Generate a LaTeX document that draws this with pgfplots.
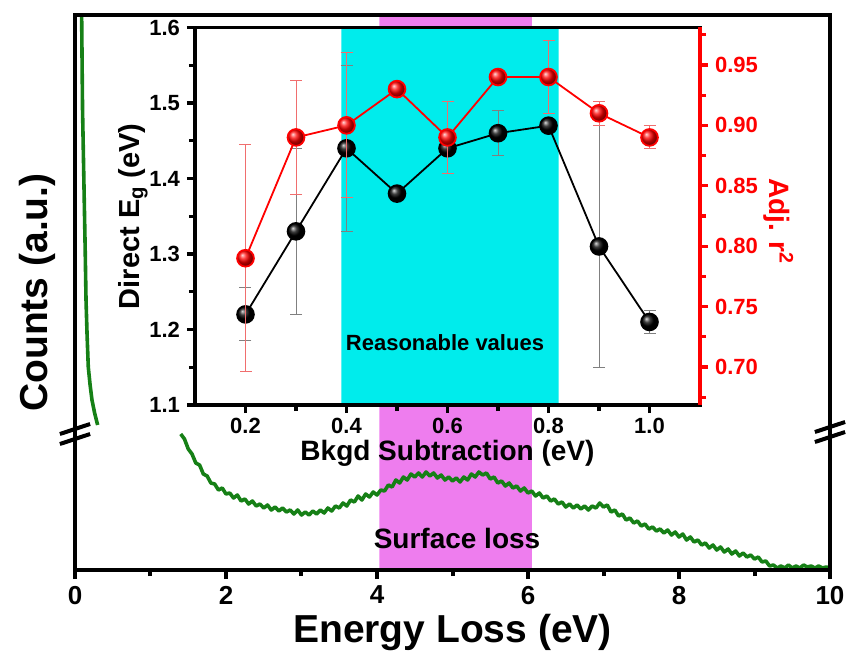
\documentclass[border=0pt]{standalone}
\usepackage{fontspec}
\setmainfont{Liberation Sans}
\usepackage{pgfplots}
\pgfplotsset{compat=1.18}
\usetikzlibrary{shadings}
\definecolor{zgreen}{RGB}{22,128,22}
\definecolor{zcyan}{RGB}{0,236,236}
\definecolor{zmag}{RGB}{238,125,238}
\definecolor{zred}{RGB}{255,0,0}
\definecolor{zerrred}{RGB}{240,110,110}

\pgfplotstableread{
x y
1.40 136
1.45 131
1.50 121
1.55 116
1.60 107
1.65 105
1.70 96
1.75 94
1.80 87
1.85 86
1.90 80
1.95 82
2.00 76
2.05 77
2.10 72
2.15 75
2.20 69
2.25 71
2.30 66
2.35 69
2.40 64
2.45 66
2.50 62
2.55 65
2.60 60
2.65 63
2.70 59
2.75 62
2.80 58
2.85 60
2.90 56
2.95 60
3.00 55
3.05 58
3.10 55
3.15 59
3.20 56
3.25 60
3.30 57
3.35 62
3.40 59
3.45 64
3.50 62
3.55 67
3.60 64
3.65 70
3.70 68
3.75 74
3.80 70
3.85 76
3.90 73
3.95 78
4.00 75
4.05 80
4.10 79
4.15 85
4.20 83
4.25 90
4.30 87
4.35 93
4.40 90
4.45 96
4.50 93
4.55 97
4.60 93
4.65 98
4.70 94
4.75 97
4.80 92
4.85 95
4.90 90
4.95 93
5.00 89
5.05 92
5.10 88
5.15 93
5.20 90
5.25 96
5.30 93
5.35 98
5.40 95
5.45 97
5.50 91
5.55 93
5.60 87
5.65 89
5.70 84
5.75 87
5.80 82
5.85 84
5.90 79
5.95 82
6.00 77
6.05 79
6.10 74
6.15 77
6.20 72
6.25 74
6.30 69
6.35 71
6.40 66
6.45 68
6.50 63
6.55 66
6.60 62
6.65 65
6.70 61
6.75 64
6.80 60
6.85 64
6.90 62
6.95 67
7.00 63
7.05 65
7.10 58
7.15 60
7.20 54
7.25 56
7.30 50
7.35 52
7.40 47
7.45 49
7.50 44
7.55 46
7.60 41
7.65 43
7.70 39
7.75 41
7.80 37
7.85 40
7.90 35
7.95 38
8.00 33
8.05 36
8.10 30
8.15 33
8.20 28
8.25 30
8.30 25
8.35 27
8.40 22
8.45 25
8.50 20
8.55 23
8.60 18
8.65 21
8.70 16
8.75 19
8.80 14
8.85 17
8.90 13
8.95 15
9.00 11
9.05 13
9.10 8
9.15 9
9.20 4
9.25 5
9.30 2
9.35 4
9.40 2
9.45 5
9.50 2
9.55 4
9.60 2
9.65 5
9.70 3
9.75 4
9.80 2
9.85 4
9.90 2
9.95 3
10.00 2
}\spectrum

\pgfplotstableread{
x y
0.088 555
0.100 460
0.120 380
0.135 320
0.146 270
0.160 235
0.176 203
0.200 185
0.225 170
0.260 157
0.300 145
}\zlp

\pgfplotstableread{
x y e
0.2 1.22 0.035
0.3 1.33 0.11
0.4 1.44 0.11
0.5 1.38 0.0
0.6 1.44 0.0
0.7 1.46 0.03
0.8 1.47 0.0
0.9 1.31 0.16
1.0 1.21 0.015
}\gap

\pgfplotstableread{
x y e
0.2 0.79 0.094
0.3 0.89 0.047
0.4 0.90 0.06
0.5 0.93 0.0
0.6 0.89 0.03
0.7 0.94 0.0
0.8 0.94 0.03
0.9 0.91 0.01
1.0 0.89 0.0095
}\rsq

\begin{document}
\begin{tikzpicture}
% ---------------- outer axis ----------------
\begin{axis}[
  at={(0pt,0pt)}, anchor=south west,
  scale only axis, width=377.5pt, height=277.5pt,
  xmin=0, xmax=10, ymin=0, ymax=555,
  axis on top, clip mode=individual,
  axis line style={line width=2pt},
  xtick={0,2,4,6,8,10}, minor xtick={1,3,5,7,9}, ytick=\empty,
  xtick pos=left, tick align=outside,
  major tick length=4.5pt, minor tick length=3pt,
  every tick/.style={line width=2pt, black},
  tick label style={font=\fontsize{13}{13}\selectfont\bfseries},
  /pgf/number format/assume math mode=true,
  xlabel={Energy Loss (eV)}, ylabel={Counts (a.u.)},
  label style={font=\fontsize{19.5}{20}\selectfont\bfseries},
  xlabel style={at={(axis description cs:0.5,-0.112)}, anchor=center},
  ylabel style={at={(axis description cs:-0.050,0.5)}, anchor=center},
]
\addplot[fill=zmag, draw=none] coordinates {(4.03,0) (6.05,0) (6.05,555) (4.03,555)} \closedcycle;
\addplot[zgreen, line width=1.8pt, line join=round] table {\spectrum};
\addplot[zgreen, line width=1.8pt, line join=round] table {\zlp};
\node[font=\fontsize{14}{14}\selectfont\bfseries] at (axis cs:5.06,32) {Surface loss};
% break marks
\draw[line width=2pt] (axis cs:-0.2,136) -- (axis cs:0.2,146);
\draw[line width=2pt] (axis cs:-0.2,126) -- (axis cs:0.2,136);
\draw[line width=2pt] (axis cs:9.8,138) -- (axis cs:10.2,148);
\draw[line width=2pt] (axis cs:9.8,128) -- (axis cs:10.2,138);
\end{axis}

% ---------------- inset, left axis ----------------
\begin{axis}[
  at={(60pt,82.5pt)}, anchor=south west,
  scale only axis, width=252.5pt, height=188.75pt,
  xmin=0.1, xmax=1.1, ymin=1.1, ymax=1.6,
  axis on top,
  axis background/.style={fill=white},
  axis line style={line width=1.6pt},
  xtick={0.2,0.4,0.6,0.8,1.0}, minor xtick={0.3,0.5,0.7,0.9},
  ytick={1.1,1.2,1.3,1.4,1.5,1.6}, minor ytick={1.15,1.25,1.35,1.45,1.55},
  xtick pos=left, ytick pos=left, tick align=outside,
  major tick length=4pt, minor tick length=3pt,
  every tick/.style={line width=1.6pt, black},
  tick label style={font=\fontsize{11}{11}\selectfont\bfseries},
  xticklabel style={yshift=1pt},
  /pgf/number format/assume math mode=true,
  xticklabel style={/pgf/number format/.cd, fixed, fixed zerofill, precision=1},
  yticklabel style={/pgf/number format/.cd, fixed, fixed zerofill, precision=1},
  xlabel={Bkgd Subtraction (eV)},
  ylabel={Direct E\textsubscript{g} (eV)},
  xlabel style={font=\fontsize{14}{14}\selectfont\bfseries, at={(axis description cs:0.5,-0.127)}, anchor=center},
  ylabel style={font=\fontsize{14.5}{15}\selectfont\bfseries, at={(axis description cs:-0.123,0.5)}, anchor=center},
]
\addplot[fill=zcyan, draw=none] coordinates {(0.39,1.1) (0.82,1.1) (0.82,1.6) (0.39,1.6)} \closedcycle;
\node[font=\fontsize{11}{11}\selectfont\bfseries] at (axis cs:0.595,1.182) {Reasonable values};
\addplot[black, line width=0.9pt, mark=ball, mark size=4.2pt, mark options={ball color=black},
  error bars/.cd, y dir=both, y explicit,
  error bar style={line width=0.5pt, gray},
  error mark options={rotate=90, mark size=3pt, line width=0.5pt, gray}]
  table[x=x, y=y, y error=e] {\gap};
\end{axis}

% ---------------- inset, right axis ----------------
\begin{axis}[
  at={(60pt,82.5pt)}, anchor=south west,
  scale only axis, width=252.5pt, height=188.75pt,
  xmin=0.1, xmax=1.1, ymin=0.6685, ymax=0.981,
  axis x line=none, axis y line*=right,
  y axis line style={line width=1.6pt, zred},
  ytick={0.70,0.75,0.80,0.85,0.90,0.95},
  minor ytick={0.675,0.725,0.775,0.825,0.875,0.925,0.975},
  ytick pos=right, tick align=outside,
  major tick length=4pt, minor tick length=3pt,
  every tick/.style={line width=1.6pt, zred},
  tick label style={font=\fontsize{11}{11}\selectfont\bfseries, text=zred},
  /pgf/number format/assume math mode=true,
  yticklabel style={/pgf/number format/.cd, fixed, fixed zerofill, precision=2},
  ylabel={Adj. r\textsuperscript{2}},
  ylabel style={font=\fontsize{14}{14}\selectfont\bfseries, text=zred, rotate=180,
    at={(axis description cs:1.155,0.487)}, anchor=center},
]
\addplot[zred, line width=0.9pt, mark=ball, mark size=4.2pt, mark options={ball color=zred},
  error bars/.cd, y dir=both, y explicit,
  error bar style={line width=0.5pt, zerrred},
  error mark options={rotate=90, mark size=3pt, line width=0.5pt, zerrred}]
  table[x=x, y=y, y error=e] {\rsq};
\end{axis}

\pgfresetboundingbox
\path (-37.5pt,-45.5pt) rectangle (386pt,285pt);
\end{tikzpicture}
\end{document}
